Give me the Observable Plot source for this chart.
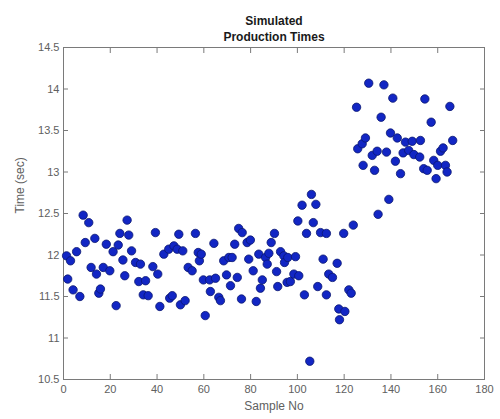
<!DOCTYPE html>
<html><head><meta charset="utf-8">
<script src="https://cdn.jsdelivr.net/npm/d3@7"></script>
<script src="https://cdn.jsdelivr.net/npm/@observablehq/plot@0.6"></script>
<style>body{margin:0;background:#fff}</style>
</head><body><div id="chart"></div>
<script>
const sampleNo = [1.3,1.8,3.0,4.1,5.6,7.0,8.4,9.3,10.8,11.8,13.4,14.1,15.1,15.8,17.0,18.3,19.8,21.2,22.5,23.4,24.1,25.4,26.2,27.2,27.9,29.1,30.8,32.2,32.9,34.1,35.1,36.2,38.2,39.3,40.3,41.2,42.9,45.0,45.4,46.5,47.2,48.6,49.3,50.0,51.0,52.0,53.3,55.0,56.4,57.6,58.1,58.9,59.8,60.6,62.5,62.8,64.3,65.0,66.4,67.1,68.5,69.7,70.7,71.4,72.1,73.2,74.3,74.9,76.1,76.4,78.5,79.2,79.9,81.1,82.4,83.5,84.2,85.0,86.4,87.1,87.8,88.8,90.2,91.1,91.6,92.8,94.2,94.5,95.6,95.9,97.0,98.5,99.2,100.2,100.6,102.0,103.0,103.9,105.3,106.0,106.8,107.9,108.7,109.9,111.0,112.4,112.4,113.4,115.0,117.0,117.7,118.0,120.3,119.8,122.0,123.0,123.9,125.3,125.8,127.7,128.1,129.1,130.5,132.0,133.0,134.1,134.5,135.8,137.0,138.1,139.1,139.8,140.8,141.9,142.7,144.1,145.2,146.2,147.6,149.1,149.8,152.3,152.6,154.0,154.5,155.5,157.2,158.3,159.3,160.0,161.2,162.3,163.3,164.0,165.2,166.4];
const timeSec = [11.99,11.71,11.93,11.58,12.04,11.50,12.48,12.15,12.39,11.85,12.20,11.77,11.54,11.59,11.85,12.13,11.81,12.04,11.39,12.12,12.26,11.94,11.75,12.42,12.24,12.05,11.91,11.68,11.89,11.52,11.69,11.51,11.86,12.27,11.77,11.38,12.01,12.07,11.48,11.51,12.11,12.07,12.25,11.40,12.05,11.45,11.85,11.81,12.26,12.03,11.93,12.01,11.70,11.27,11.70,11.56,12.14,11.72,11.49,11.45,11.93,11.76,11.97,11.63,11.97,12.13,11.73,12.32,11.47,12.27,12.15,11.95,12.18,11.81,11.44,12.01,11.60,11.70,11.97,11.89,12.02,12.15,12.26,11.80,11.62,12.04,11.99,11.91,11.67,11.97,11.68,11.77,11.98,12.41,11.75,12.60,11.52,12.26,10.72,12.73,12.39,12.61,11.62,12.27,11.95,12.26,11.52,11.77,11.73,11.90,11.35,11.22,11.32,12.26,11.58,11.54,12.36,13.78,13.28,13.34,13.08,13.41,14.07,13.20,13.02,13.25,12.49,13.66,14.05,13.24,12.67,13.47,13.89,13.13,13.41,12.98,13.23,13.36,13.26,13.37,13.21,13.18,13.38,13.04,13.88,13.02,13.60,13.14,12.92,13.08,13.25,13.29,13.08,13.00,13.79,13.38];
const xTicks = [0,20,40,60,80,100,120,140,160,180];
const yTicks = [10.5,11,11.5,12,12.5,13,13.5,14,14.5];
const titleLines = ["Simulated","Production Times"];
const xLabel = "Sample No";
const yLabel = "Time (sec)";

const data = sampleNo.map((x, i) => ({x, y: timeSec[i]}));
const axisColor = "#7a7a7a";
const textColor = "#606060";

const chart = Plot.plot({
  width: 500, height: 419,
  marginLeft: 63, marginRight: 16, marginTop: 47, marginBottom: 40,
  style: {fontFamily: "'Liberation Sans', Arial, sans-serif", fontSize: "11px", color: textColor, background: "#fff"},
  x: {domain: [0, 180], label: null},
  y: {domain: [10.5, 14.5], label: null},
  marks: [
    Plot.frame({stroke: axisColor}),
    Plot.axisX(xTicks, {anchor: "bottom", tickSize: -5, tickPadding: 11, stroke: axisColor, fill: textColor, label: null}),
    Plot.axisX(xTicks, {anchor: "top", tickSize: -5, stroke: axisColor, tickFormat: () => "", label: null}),
    Plot.axisY(yTicks, {anchor: "left", tickSize: -5, tickPadding: 9, stroke: axisColor, fill: textColor, label: null, tickFormat: d => String(d)}),
    Plot.axisY(yTicks, {anchor: "right", tickSize: -5, stroke: axisColor, tickFormat: () => "", label: null}),
    Plot.dot(data, {x: "x", y: "y", r: 4.2, fill: "#1226c4", stroke: "#0a1670", strokeWidth: 0.8}),
    Plot.text([titleLines[0]], {frameAnchor: "top", dy: -31, fontWeight: "bold", fontSize: 12, fill: "#1a1a1a"}),
    Plot.text([titleLines[1]], {frameAnchor: "top", dy: -15, fontWeight: "bold", fontSize: 12, fill: "#1a1a1a"}),
    Plot.text([xLabel], {frameAnchor: "bottom", dy: 30, fontSize: 12, fill: textColor}),
    Plot.text([yLabel], {frameAnchor: "left", dx: -43, rotate: -90, fontSize: 12, fill: textColor})
  ]
});
document.getElementById("chart").appendChild(chart);
</script>
</body></html>
